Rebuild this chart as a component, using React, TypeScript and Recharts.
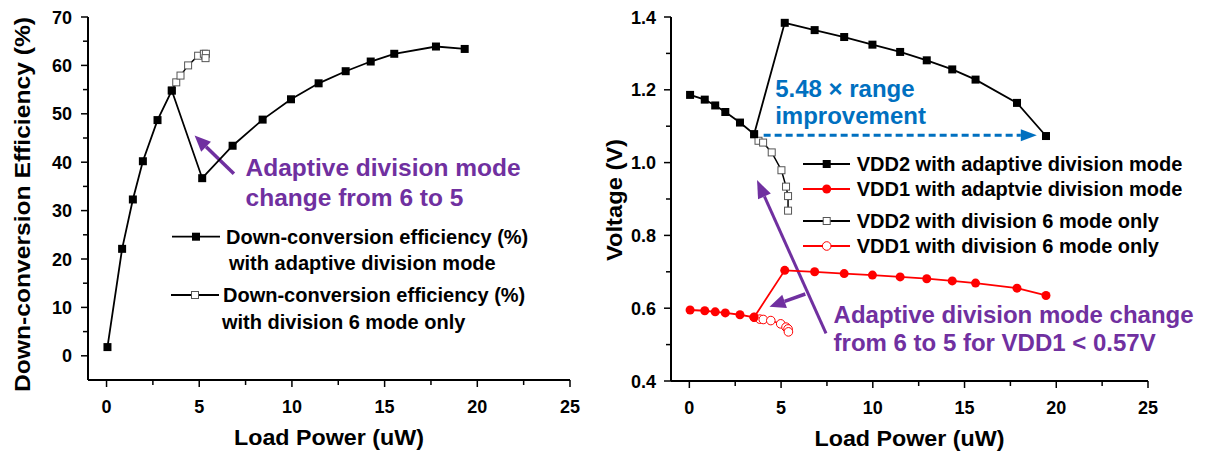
import React from 'react';
import { ScatterChart, Scatter, XAxis, YAxis, ReferenceLine, ReferenceDot, Legend } from 'recharts';

const FONT = '"Liberation Sans", Arial, Helvetica, sans-serif';
const PURPLE = '#7030A0';
const BLUE = '#0070C0';
const RED = '#FF0000';

// ---------- Left chart: down-conversion efficiency ----------
const effAdaptiveLoad = [0.05, 0.84, 1.42, 1.96, 2.75, 3.52, 5.16, 6.8, 8.42, 9.95, 11.44, 12.9, 14.25, 15.52, 17.77, 19.32];
const effAdaptive = [1.8, 22.1, 32.3, 40.2, 48.7, 54.8, 36.7, 43.4, 48.8, 53.0, 56.3, 58.8, 60.8, 62.4, 63.9, 63.4];
const effDiv6Load = [3.52, 3.76, 3.99, 4.4, 4.94, 5.25, 5.36, 5.34];
const effDiv6 = [54.8, 56.5, 57.9, 60.0, 62.0, 62.4, 62.4, 61.5];

// ---------- Right chart: voltages ----------
const vAdaptiveLoad = [0.04, 0.84, 1.41, 1.96, 2.76, 3.53, 5.2, 6.83, 8.44, 9.98, 11.49, 12.94, 14.33, 15.6, 17.86, 19.44];
const vdd2Adaptive = [1.186, 1.173, 1.157, 1.139, 1.11, 1.078, 1.384, 1.364, 1.345, 1.324, 1.304, 1.281, 1.256, 1.228, 1.164, 1.073];
const vdd1Adaptive = [0.595, 0.593, 0.59, 0.587, 0.582, 0.575, 0.704, 0.7, 0.695, 0.691, 0.686, 0.681, 0.675, 0.669, 0.655, 0.635];
const vdd2Div6Load = [3.53, 3.77, 4.02, 4.49, 5.02, 5.27, 5.38, 5.38];
const vdd2Div6 = [1.078, 1.06, 1.055, 1.028, 0.979, 0.934, 0.908, 0.868];
const vdd1Div6Load = [3.53, 3.84, 4.03, 4.44, 4.98, 5.27, 5.38, 5.4];
const vdd1Div6 = [0.575, 0.57, 0.569, 0.566, 0.557, 0.548, 0.543, 0.535];

// ---------- Axes ----------
const xTicks = [0, 2.5, 5, 7.5, 10, 12.5, 15, 17.5, 20, 22.5, 25];
const xMajor = [0, 5, 10, 15, 20, 25];
const effTicks = [0, 5, 10, 15, 20, 25, 30, 35, 40, 45, 50, 55, 60, 65, 70];
const effMajor = [0, 10, 20, 30, 40, 50, 60, 70];
const voltTicks = [0.4, 0.5, 0.6, 0.7, 0.8, 0.9, 1.0, 1.1, 1.2, 1.3, 1.4];
const voltMajor = ['0.4', '0.6', '0.8', '1.0', '1.2', '1.4'];

const pts = (xs: number[], ys: number[]) => xs.map((x, i) => ({ x, y: ys[i] }));

const textStyle = { fontFamily: FONT, fontWeight: 700 } as const;

const XTick = (props: any) => {
  const { x, y, payload } = props;
  const v = payload.value;
  const major = xMajor.includes(v);
  return (
    <g>
      <line x1={x} x2={x} y1={y} y2={y + (major ? 7 : 5)} stroke="#000" strokeWidth={1.5} />
      {major && (
        <text x={x} y={y + 33} textAnchor="middle" fontSize={18} fill="#000" style={textStyle}>
          {v}
        </text>
      )}
    </g>
  );
};

const EffTick = (props: any) => {
  const { x, y, payload } = props;
  const v = payload.value;
  const major = effMajor.includes(v);
  return (
    <g>
      <line x1={x} x2={x - (major ? 7 : 5)} y1={y} y2={y} stroke="#000" strokeWidth={1.5} />
      {major && (
        <text x={x - 16} y={y + 6.5} textAnchor="end" fontSize={18} fill="#000" style={textStyle}>
          {v}
        </text>
      )}
    </g>
  );
};

const VoltTick = (props: any) => {
  const { x, y, payload } = props;
  const s = Number(payload.value).toFixed(1);
  const major = voltMajor.includes(s);
  return (
    <g>
      <line x1={x} x2={x - (major ? 7 : 5)} y1={y} y2={y} stroke="#000" strokeWidth={1.5} />
      {major && (
        <text x={x - 15} y={y + 6.5} textAnchor="end" fontSize={18} fill="#000" style={textStyle}>
          {s}
        </text>
      )}
    </g>
  );
};

const yTitle = (text: string, dx: number, dy: number, len: number) => (props: any) => {
  const vb = props.viewBox;
  const cx = vb.x + dx;
  const cy = vb.y + vb.height / 2 + dy;
  return (
    <text
      x={cx}
      y={cy}
      transform={`rotate(-90 ${cx} ${cy})`}
      textAnchor="middle"
      dominantBaseline="central"
      fontSize={22}
      fill="#000"
      textLength={len}
      lengthAdjust="spacingAndGlyphs"
      style={textStyle}
    >
      {text}
    </text>
  );
};

const xTitle = (text: string) => (props: any) => {
  const vb = props.viewBox;
  return (
    <text
      x={vb.x + vb.width / 2}
      y={vb.y + 57}
      textAnchor="middle"
      dominantBaseline="central"
      fontSize={22}
      fill="#000"
      textLength={190}
      lengthAdjust="spacingAndGlyphs"
      style={textStyle}
    >
      {text}
    </text>
  );
};

// ---------- Marker shapes ----------
const filledSquare = (p: any) => <rect x={p.cx - 4} y={p.cy - 4} width={8} height={8} fill="#000" />;
const openSquare = (p: any) => (
  <rect x={p.cx - 3.5} y={p.cy - 3.5} width={7} height={7} fill="#fff" stroke="#555" strokeWidth={1} />
);
const filledCircle = (p: any) => <circle cx={p.cx} cy={p.cy} r={4.5} fill={RED} />;
const openCircle = (p: any) => <circle cx={p.cx} cy={p.cy} r={4.3} fill="#fff" stroke={RED} strokeWidth={1} />;

// ---------- Annotation helpers ----------
const arrowShape = (color: string, width: number, head: number, headW: number, dash?: string) => (p: any) => {
  const { x1, y1, x2, y2 } = p;
  const ang = Math.atan2(y2 - y1, x2 - x1);
  const bx = x2 - head * Math.cos(ang);
  const by = y2 - head * Math.sin(ang);
  const nx = (-Math.sin(ang) * headW) / 2;
  const ny = (Math.cos(ang) * headW) / 2;
  return (
    <g>
      <line x1={x1} y1={y1} x2={bx} y2={by} stroke={color} strokeWidth={width} strokeDasharray={dash} />
      <polygon points={`${x2},${y2} ${bx + nx},${by + ny} ${bx - nx},${by - ny}`} fill={color} />
    </g>
  );
};

const textBlock = (lines: string[], color: string, size: number, gap: number) => (p: any) => (
  <g>
    {lines.map((l, i) => (
      <text
        key={i}
        x={p.cx}
        y={p.cy + i * gap}
        dominantBaseline="central"
        fontSize={size}
        fill={color}
        style={textStyle}
      >
        {l}
      </text>
    ))}
  </g>
);

// ---------- Legends ----------
const LeftLegend = () => (
  <svg width={400} height={120} style={{ display: 'block' }}>
    <line x1={12} x2={60} y1={16.7} y2={16.7} stroke="#000" strokeWidth={1.8} />
    <rect x={32} y={12.7} width={8} height={8} fill="#000" />
    <text x={66} y={16.7} dominantBaseline="central" fontSize={20} style={textStyle}>
      Down-conversion efficiency (%)
    </text>
    <text x={69} y={43.3} dominantBaseline="central" fontSize={20} style={textStyle}>
      with adaptive division mode
    </text>
    <line x1={11} x2={59} y1={75} y2={75} stroke="#000" strokeWidth={1.8} />
    <rect x={31.5} y={71.5} width={7} height={7} fill="#fff" stroke="#555" strokeWidth={1} />
    <text x={63} y={75} dominantBaseline="central" fontSize={20} style={textStyle}>
      Down-conversion efficiency (%)
    </text>
    <text x={62} y={101.7} dominantBaseline="central" fontSize={20} style={textStyle}>
      with division 6 mode only
    </text>
  </svg>
);

const RightLegend = () => {
  const rows = [
    { y: 14, color: '#000', label: 'VDD2 with adaptive division mode', kind: 'fs' },
    { y: 39, color: RED, label: 'VDD1 with adaptvie division mode', kind: 'fc' },
    { y: 71, color: '#000', label: 'VDD2 with division 6 mode only', kind: 'os' },
    { y: 96, color: RED, label: 'VDD1 with division 6 mode only', kind: 'oc' },
  ];
  return (
    <svg width={420} height={112} style={{ display: 'block' }}>
      {rows.map((r, i) => (
        <g key={i}>
          <line x1={8} x2={55} y1={r.y} y2={r.y} stroke={r.color} strokeWidth={1.8} />
          {r.kind === 'fs' && <rect x={27.7} y={r.y - 4} width={8} height={8} fill="#000" />}
          {r.kind === 'fc' && <circle cx={31.7} cy={r.y} r={4.5} fill={RED} />}
          {r.kind === 'os' && (
            <rect x={28.2} y={r.y - 3.5} width={7} height={7} fill="#fff" stroke="#555" strokeWidth={1} />
          )}
          {r.kind === 'oc' && <circle cx={31.7} cy={r.y} r={4.3} fill="#fff" stroke={RED} strokeWidth={1} />}
          <text x={61.7} y={r.y} dominantBaseline="central" fontSize={20} style={textStyle}>
            {r.label}
          </text>
        </g>
      ))}
    </svg>
  );
};

export default function App() {
  return (
    <div style={{ position: 'absolute', left: 0, top: 0, width: 1208, height: 453, background: '#fff', overflow: 'hidden' }}>
      <div style={{ position: 'absolute', left: 0, top: 0 }}>
        <ScatterChart width={600} height={453} margin={{ top: 17, right: 30, bottom: 8, left: 0 }}>
          <XAxis
            type="number"
            dataKey="x"
            domain={[-1, 25]}
            ticks={xTicks}
            interval={0}
            tickLine={false}
            tickSize={0}
            tickMargin={0}
            tick={<XTick />}
            height={65}
            axisLine={{ stroke: '#000', strokeWidth: 2 }}
            allowDataOverflow
            label={xTitle('Load Power (uW)')}
          />
          <YAxis
            type="number"
            dataKey="y"
            domain={[-5, 70]}
            ticks={effTicks}
            interval={0}
            tickLine={false}
            tickSize={0}
            tickMargin={0}
            tick={<EffTick />}
            width={88}
            axisLine={{ stroke: '#000', strokeWidth: 2 }}
            allowDataOverflow
            label={yTitle('Down-conversion Efficiency (%)', 22, 6, 375)}
          />
          <Scatter
            name="Down-conversion efficiency (%) with division 6 mode only"
            data={pts(effDiv6Load, effDiv6)}
            line={{ stroke: '#000', strokeWidth: 1.5 }}
            lineType="joint"
            shape={openSquare}
            isAnimationActive={false}
          />
          <Scatter
            name="Down-conversion efficiency (%) with adaptive division mode"
            data={pts(effAdaptiveLoad, effAdaptive)}
            line={{ stroke: '#000', strokeWidth: 1.8 }}
            lineType="joint"
            shape={filledSquare}
            isAnimationActive={false}
          />
          <ReferenceLine
            segment={[{ x: 6.87, y: 37.6 }, { x: 4.75, y: 45.5 }]}
            shape={arrowShape(PURPLE, 3.5, 16, 14)}
          />
          <ReferenceDot
            x={7.5}
            y={39}
            shape={textBlock(['Adaptive division mode', 'change from 6 to 5'], PURPLE, 24.5, 30)}
          />
          <Legend
            layout="vertical"
            align="center"
            verticalAlign="middle"
            wrapperStyle={{ position: 'absolute', left: 160, top: 220, width: 400, height: 120 }}
            content={() => <LeftLegend />}
          />
        </ScatterChart>
      </div>
      <div style={{ position: 'absolute', left: 600, top: 0 }}>
        <ScatterChart width={608} height={453} margin={{ top: 17, right: 60, bottom: 7, left: 0 }}>
          <XAxis
            type="number"
            dataKey="x"
            domain={[-1, 25]}
            ticks={xTicks}
            interval={0}
            tickLine={false}
            tickSize={0}
            tickMargin={0}
            tick={<XTick />}
            height={65}
            axisLine={{ stroke: '#000', strokeWidth: 2 }}
            allowDataOverflow
            label={xTitle('Load Power (uW)')}
          />
          <YAxis
            type="number"
            dataKey="y"
            domain={[0.4, 1.4]}
            ticks={voltTicks}
            interval={0}
            tickLine={false}
            tickSize={0}
            tickMargin={0}
            tick={<VoltTick />}
            width={71}
            axisLine={{ stroke: '#000', strokeWidth: 2 }}
            allowDataOverflow
            label={yTitle('Voltage (V)', 14, 1, 122)}
          />
          <Scatter
            name="VDD2 with division 6 mode only"
            data={pts(vdd2Div6Load, vdd2Div6)}
            line={{ stroke: '#000', strokeWidth: 1.5 }}
            lineType="joint"
            shape={openSquare}
            isAnimationActive={false}
          />
          <Scatter
            name="VDD1 with division 6 mode only"
            data={pts(vdd1Div6Load, vdd1Div6)}
            line={{ stroke: RED, strokeWidth: 1.5 }}
            lineType="joint"
            shape={openCircle}
            isAnimationActive={false}
          />
          <Scatter
            name="VDD2 with adaptive division mode"
            data={pts(vAdaptiveLoad, vdd2Adaptive)}
            line={{ stroke: '#000', strokeWidth: 1.8 }}
            lineType="joint"
            shape={filledSquare}
            isAnimationActive={false}
          />
          <Scatter
            name="VDD1 with adaptvie division mode"
            data={pts(vAdaptiveLoad, vdd1Adaptive)}
            line={{ stroke: RED, strokeWidth: 1.8 }}
            lineType="joint"
            shape={filledCircle}
            isAnimationActive={false}
          />
          <ReferenceLine
            segment={[{ x: 4.05, y: 1.0753 }, { x: 18.94, y: 1.0753 }]}
            shape={arrowShape(BLUE, 3, 16, 12, '7 4')}
          />
          <ReferenceDot x={4.68} y={1.2035} shape={textBlock(['5.48 × range', 'improvement'], BLUE, 24, 27)} />
          <ReferenceLine
            segment={[{ x: 7.45, y: 0.531 }, { x: 3.69, y: 0.952 }]}
            shape={arrowShape(PURPLE, 3, 18, 14)}
          />
          <ReferenceLine
            segment={[{ x: 6.32, y: 0.639 }, { x: 4.37, y: 0.604 }]}
            shape={arrowShape(PURPLE, 3.5, 16, 14)}
          />
          <ReferenceDot
            x={7.86}
            y={0.584}
            shape={textBlock(['Adaptive division mode change', 'from 6 to 5 for VDD1 < 0.57V'], PURPLE, 24, 28)}
          />
          <Legend
            layout="vertical"
            align="center"
            verticalAlign="middle"
            wrapperStyle={{ position: 'absolute', left: 195, top: 150, width: 420, height: 112 }}
            content={() => <RightLegend />}
          />
        </ScatterChart>
      </div>
    </div>
  );
}
